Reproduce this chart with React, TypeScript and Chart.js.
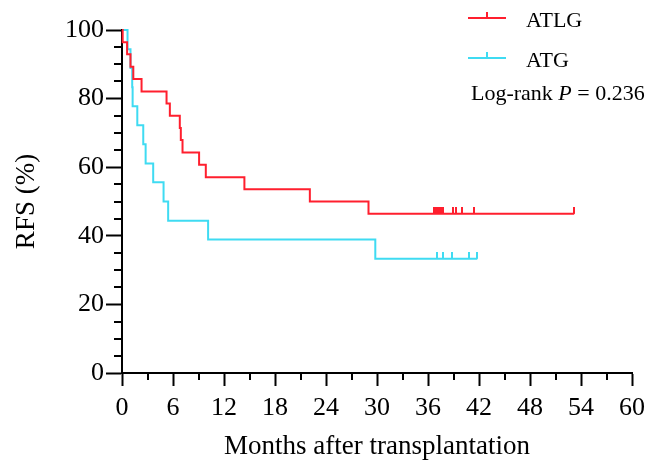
import { useEffect, useRef } from "react";
import { Chart, registerables } from "chart.js";

Chart.register(...registerables);

// ---- Data ----
const xTickValues = [0, 6, 12, 18, 24, 30, 36, 42, 48, 54, 60];
const yTickValues = [0, 20, 40, 60, 80, 100];

const atlgTimes = [0, 0.08, 0.6, 1.0, 1.33, 2.3, 5.24, 5.63, 6.8, 6.92, 7.12, 9.07, 9.86, 14.4, 22.1, 29.0, 53.2];
const atlgSurv = [100, 96.4, 92.9, 89.3, 85.7, 82.1, 78.6, 75.0, 71.4, 67.9, 64.3, 60.7, 57.1, 53.6, 50.0, 46.4, 46.4];
const atlgCensorTimes = [36.7, 36.9, 37.1, 37.3, 37.5, 37.8, 38.9, 39.3, 40.0, 41.4, 53.2];
const atlgCensorSurv = [46.4, 46.4, 46.4, 46.4, 46.4, 46.4, 46.4, 46.4, 46.4, 46.4, 46.4];

const atgTimes = [0, 0.65, 1.0, 1.2, 1.25, 1.8, 2.5, 2.78, 3.67, 4.89, 5.43, 10.13, 29.8, 41.8];
const atgSurv = [100, 94.4, 88.9, 83.3, 77.8, 72.2, 66.7, 61.1, 55.6, 50.0, 44.4, 38.9, 33.3, 33.3];
const atgCensorTimes = [37.0, 37.8, 38.8, 40.8, 41.8];
const atgCensorSurv = [33.3, 33.3, 33.3, 33.3, 33.3];

const seriesNames = ["ATLG", "ATG"];
const pValue = "0.236";
const xTitle = "Months after transplantation";
const yTitle = "RFS (%)";

const RED = "#FF1F2E";
const CYAN = "#3FDBF2";
const FONT = "'Liberation Serif', 'Times New Roman', serif";

function makeCensorMark(color: string): HTMLCanvasElement {
  const c = document.createElement("canvas");
  c.width = 2;
  c.height = 14;
  const g = c.getContext("2d")!;
  g.fillStyle = color;
  g.fillRect(0, 0, 2, 7);
  return c;
}

const minorTicksPlugin = {
  id: "minorTicks",
  afterDraw(chart: any) {
    const { ctx, chartArea, scales } = chart;
    const x = scales.x;
    const y = scales.y;
    ctx.save();
    ctx.strokeStyle = "#000";
    ctx.lineWidth = 2;
    ctx.beginPath();
    for (let v = 3; v < 60; v += 6) {
      const px = Math.round(x.getPixelForValue(v));
      ctx.moveTo(px, chartArea.bottom);
      ctx.lineTo(px, chartArea.bottom + 7);
    }
    for (let v = 5; v < 100; v += 5) {
      if (v % 20 === 0) continue;
      const py = Math.round(y.getPixelForValue(v));
      ctx.moveTo(chartArea.left, py);
      ctx.lineTo(chartArea.left - 8, py);
    }
    ctx.stroke();
    ctx.restore();
  },
};

const annotationPlugin = {
  id: "kmLegend",
  afterDraw(chart: any) {
    const { ctx } = chart;
    ctx.save();
    const colors = [RED, CYAN];
    const lineYs = [18, 58];
    const textYs = [27, 67];
    ctx.lineWidth = 2;
    for (let i = 0; i < 2; i++) {
      ctx.strokeStyle = colors[i];
      ctx.beginPath();
      ctx.moveTo(468, lineYs[i]);
      ctx.lineTo(506, lineYs[i]);
      ctx.moveTo(487, lineYs[i]);
      ctx.lineTo(487, lineYs[i] - 6);
      ctx.stroke();
      ctx.fillStyle = "#000";
      ctx.font = `22px ${FONT}`;
      ctx.textBaseline = "alphabetic";
      ctx.textAlign = "left";
      ctx.fillText(seriesNames[i], 526, textYs[i]);
    }
    // Log-rank P = 0.236
    let xx = 471;
    const by = 100;
    ctx.font = `22px ${FONT}`;
    const t1 = "Log-rank ";
    ctx.fillText(t1, xx, by);
    xx += ctx.measureText(t1).width;
    ctx.font = `italic 22px ${FONT}`;
    ctx.fillText("P", xx, by);
    xx += ctx.measureText("P").width;
    ctx.font = `22px ${FONT}`;
    ctx.fillText(" = " + pValue, xx, by);
    ctx.restore();
  },
};

export default function App() {
  const ref = useRef<HTMLCanvasElement>(null);

  useEffect(() => {
    if (!ref.current) return;
    const toPts = (ts: number[], vs: number[]) => ts.map((t, i) => ({ x: t, y: vs[i] }));
    const chart = new Chart(ref.current, {
      type: "line",
      data: {
        datasets: [
          {
            label: seriesNames[0],
            data: toPts(atlgTimes, atlgSurv),
            borderColor: RED,
            borderWidth: 2,
            stepped: "before",
            pointRadius: 0,
            fill: false,
            clip: false as any,
          },
          {
            label: seriesNames[1],
            data: toPts(atgTimes, atgSurv),
            borderColor: CYAN,
            borderWidth: 2,
            stepped: "before",
            pointRadius: 0,
            fill: false,
            clip: false as any,
          },
          {
            label: seriesNames[0] + " censored",
            data: toPts(atlgCensorTimes, atlgCensorSurv),
            showLine: false,
            pointStyle: makeCensorMark(RED) as any,
            pointRadius: 7,
            borderColor: RED,
            backgroundColor: RED,
            clip: false as any,
          },
          {
            label: seriesNames[1] + " censored",
            data: toPts(atgCensorTimes, atgCensorSurv),
            showLine: false,
            pointStyle: makeCensorMark(CYAN) as any,
            pointRadius: 7,
            borderColor: CYAN,
            backgroundColor: CYAN,
            clip: false as any,
          },
        ],
      },
      options: {
        responsive: false,
        animation: false,
        events: [],
        layout: { padding: { top: 30, right: 19, left: 0, bottom: 0 } },
        plugins: {
          legend: { display: false },
          tooltip: { enabled: false },
        },
        scales: {
          x: {
            type: "linear",
            min: 0,
            max: 60,
            afterFit: (s: any) => {
              s.height = 92;
            },
            afterBuildTicks: (s: any) => {
              s.ticks = xTickValues.map((v) => ({ value: v }));
            },
            ticks: {
              color: "#000",
              font: { family: FONT, size: 26 },
              padding: 7,
              maxRotation: 0,
              autoSkip: false,
            },
            grid: {
              display: true,
              drawOnChartArea: false,
              drawTicks: true,
              tickLength: 13,
              tickWidth: 2,
              tickColor: "#000",
            },
            border: { display: true, color: "#000", width: 2 },
            title: {
              display: true,
              text: xTitle,
              color: "#000",
              font: { family: FONT, size: 27 },
              padding: { top: 0, bottom: 2 },
            },
          },
          y: {
            type: "linear",
            min: 0,
            max: 100,
            afterFit: (s: any) => {
              s.width = 122;
            },
            afterBuildTicks: (s: any) => {
              s.ticks = yTickValues.map((v) => ({ value: v }));
            },
            ticks: {
              color: "#000",
              font: { family: FONT, size: 26 },
              padding: 2,
              autoSkip: false,
            },
            grid: {
              display: true,
              drawOnChartArea: false,
              drawTicks: true,
              tickLength: 16,
              tickWidth: 2,
              tickColor: "#000",
            },
            border: { display: true, color: "#000", width: 2 },
            title: {
              display: true,
              text: yTitle,
              color: "#000",
              font: { family: FONT, size: 27 },
              padding: { top: 11, bottom: 0 },
            },
          },
        },
      },
      plugins: [minorTicksPlugin, annotationPlugin],
    });
    return () => chart.destroy();
  }, []);

  return (
    <div style={{ position: "absolute", left: 0, top: 0, width: 652, height: 465, background: "#fff" }}>
      <canvas ref={ref} width={652} height={465} />
    </div>
  );
}
